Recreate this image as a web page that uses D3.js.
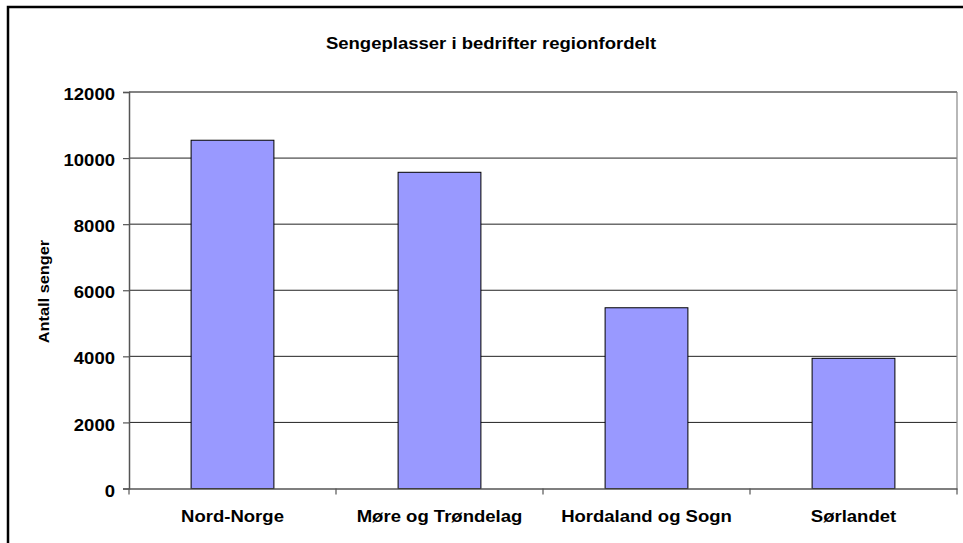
<!DOCTYPE html>
<html><head><meta charset="utf-8">
<script src="https://cdn.jsdelivr.net/npm/d3@7"></script>
<style>body{margin:0;background:#fff;}svg{display:block;font-family:Arial,"Liberation Sans",sans-serif;}</style>
</head><body><svg id="c" width="963" height="543"></svg>
<script>
const categories = ["Nord-Norge", "Møre og Trøndelag", "Hordaland og Sogn", "Sørlandet"];
const values = [10540, 9570, 5470, 3940];
const yTicks = [0, 2000, 4000, 6000, 8000, 10000, 12000];
const title = "Sengeplasser i bedrifter regionfordelt";
const yTitle = "Antall senger";

const SX = 1.09; // horizontal stretch of text as in the reference
const FONT = "Arial, Liberation Sans, sans-serif";
const svg = d3.select("#c");
const L = 129, R = 957, T = 92, B = 488.5;
svg.append("rect").attr("x",8).attr("y",7).attr("width",1000).attr("height",600)
  .attr("fill","#fff").attr("stroke","#000").attr("stroke-width",2.5);

const x = d3.scaleBand().domain(categories).range([L,R]).paddingInner(0).paddingOuter(0);
const y = d3.scaleLinear().domain([0,12000]).range([B,T]);

// gridlines
svg.append("g").selectAll("line").data(yTicks.filter(d=>d>0)).join("line")
  .attr("x1",L).attr("x2",R).attr("y1",d=>y(d)).attr("y2",d=>y(d))
  .attr("stroke","#222").attr("stroke-width",1);
svg.append("line").attr("x1",R).attr("x2",R).attr("y1",T).attr("y2",B).attr("stroke","#888").attr("stroke-width",1.2);
svg.append("line").attr("x1",L).attr("x2",R).attr("y1",T).attr("y2",T).attr("stroke","#777").attr("stroke-width",1.2);

// bars
const bw = x.bandwidth()*0.4;
svg.append("g").selectAll("rect").data(values).join("rect")
  .attr("x",(d,i)=>x(categories[i])+(x.bandwidth()-bw)/2)
  .attr("y",d=>y(d)).attr("width",bw).attr("height",d=>B-y(d))
  .attr("fill","#9999ff").attr("stroke","#000").attr("stroke-width",1);

// y axis
const ya = d3.axisLeft(y).tickValues(yTicks).tickSize(6).tickPadding(8).tickFormat(d3.format("d"));
const gy = svg.append("g").attr("transform",`translate(${L},0)`).call(ya);
gy.select(".domain").attr("stroke","#555").attr("stroke-width",1.5);
gy.selectAll(".tick line").attr("stroke","#555").attr("stroke-width",1.2);
gy.selectAll("text").attr("font-size",17).attr("font-weight","bold").attr("fill","#000").attr("font-family",FONT)
  .attr("x",-14/SX).attr("dy","0.45em").attr("transform",`scale(${SX},1)`);

// x axis
const xa = d3.axisBottom(x).tickSize(0).tickPadding(0);
const gx = svg.append("g").attr("transform",`translate(0,${B})`).call(xa);
gx.select(".domain").attr("stroke","#555").attr("stroke-width",1.5);
gx.selectAll("text").attr("font-size",17).attr("font-weight","bold").attr("fill","#000").attr("font-family",FONT)
  .attr("y",34).attr("dy",0).attr("transform",`scale(${SX},1)`);
// category boundary ticks
svg.append("g").selectAll("line").data(d3.range(categories.length+1)).join("line")
  .attr("x1",i=>L+i*x.step()).attr("x2",i=>L+i*x.step()).attr("y1",B).attr("y2",B+6)
  .attr("stroke","#555").attr("stroke-width",1.2);

svg.append("text").attr("transform",`translate(491,48.5) scale(${SX},1)`).attr("text-anchor","middle")
  .attr("font-size",17).attr("font-weight","bold").text(title);
svg.append("text").attr("transform",`translate(49,291.5) rotate(-90) scale(${SX},1)`).attr("text-anchor","middle")
  .attr("font-size",15).attr("font-weight","bold").text(yTitle);
</script></body></html>
